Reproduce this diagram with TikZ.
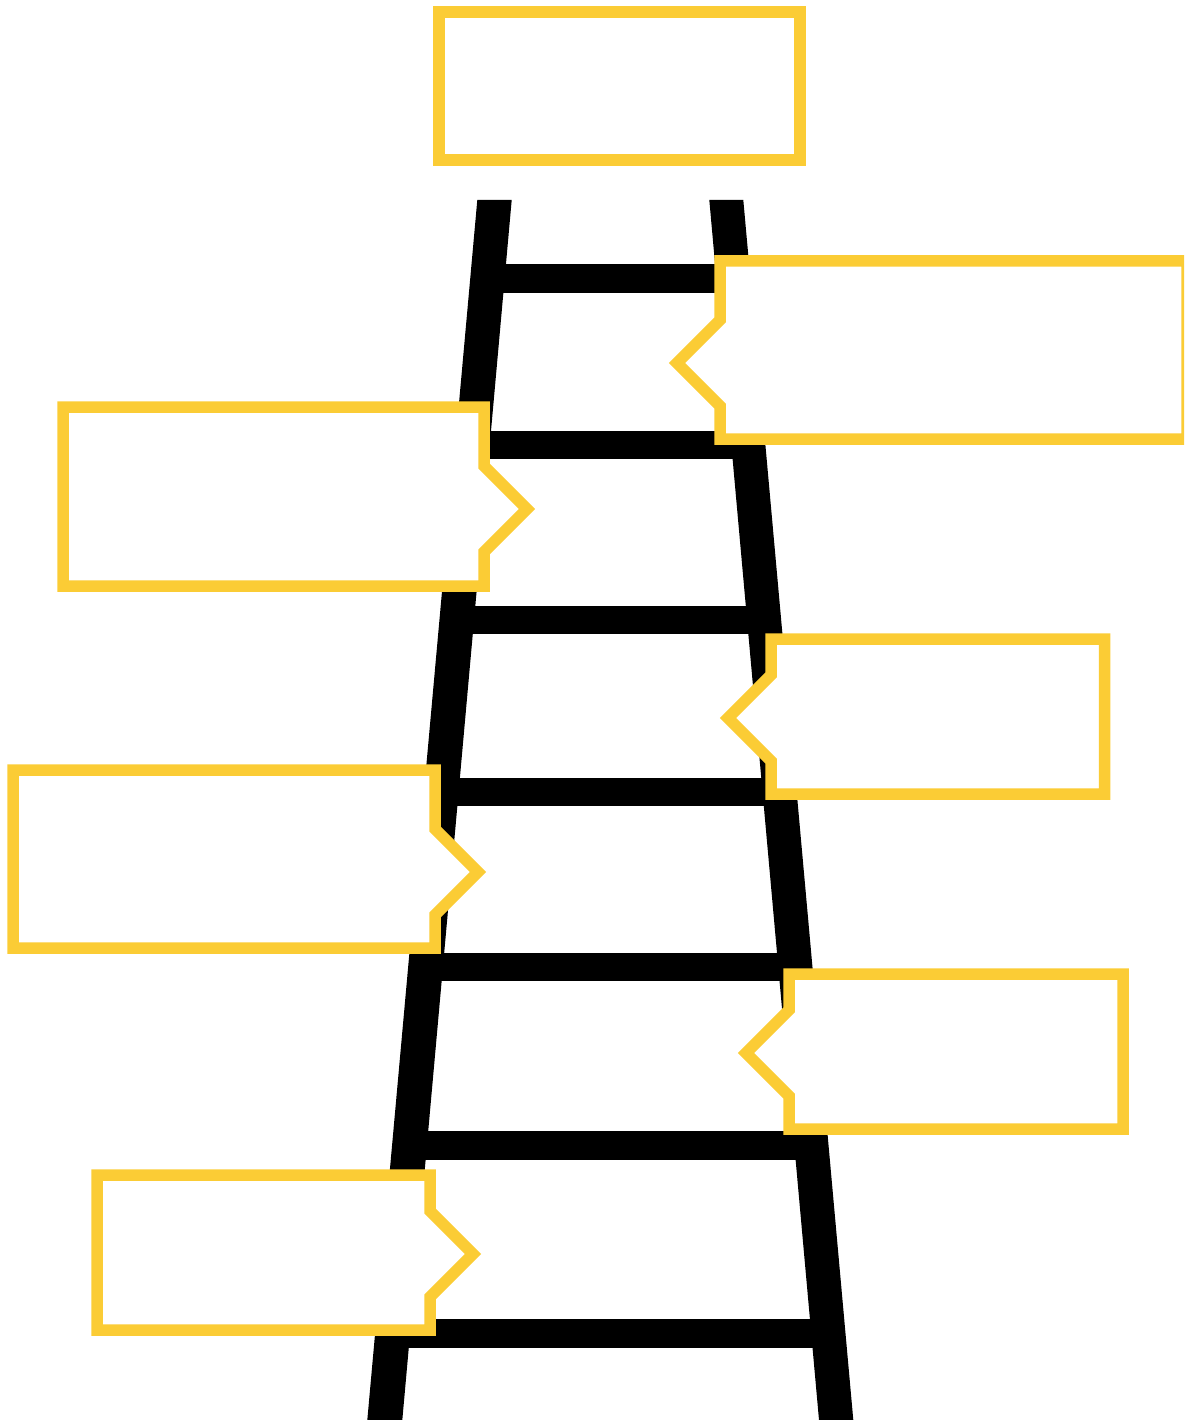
\documentclass[tikz,border=0pt]{standalone}
\usetikzlibrary{arrows.meta}
\definecolor{ladderYellow}{HTML}{FBCC35}
\definecolor{ladderBlack}{HTML}{000000}
\tikzset{
  ladder diagram/.style={
    x=1pt, y=-1pt, line join=miter,
    baseline=(current bounding box.center)
  },
  ladder rail/.style={fill=ladderBlack, draw=none},
  ladder rung/.style={draw=ladderBlack, line width=28.5pt},
  ladder callout/.style={draw=ladderYellow, fill=white, line width=11.5pt}
}
% #1 left, #2 top, #3 right, #4 bottom, #5 tip y
\newcommand{\LadderCalloutLeft}[5]{%
  \draw[ladder callout] (#1,#2) -- (#3,#2) -- (#3,#4) -- (#1,#4)
    -- (#1,#5+43) -- (#1-43,#5) -- (#1,#5-43) -- cycle;
}
\newcommand{\LadderCalloutRight}[5]{%
  \draw[ladder callout] (#3,#2) -- (#1,#2) -- (#1,#4) -- (#3,#4)
    -- (#3,#5+43) -- (#3+43,#5) -- (#3,#5-43) -- cycle;
}
\begin{document}
\begin{tikzpicture}[ladder diagram]
    \useasboundingbox (0,0) rectangle (1184,1420);
    \clip (0,0) rectangle (1184,1420);
    \foreach \y in {278.4,445,620,792,967,1145.5,1333.5}
      \draw[ladder rung] ({494.5-0.0899*(\y-200)},\y) -- ({726.3+0.0901*(\y-200)},\y);
    \fill[ladder rail] (477.3,200) -- (511.7,200) -- (402.3,1420) -- (367.3,1420) -- cycle;
    \fill[ladder rail] (709.3,200) -- (743.3,200) -- (853.3,1420) -- (819,1420) -- cycle;
    \draw[ladder callout] (439,12) rectangle (800,160);
    \LadderCalloutLeft{720}{261}{1187}{439}{363}
    \LadderCalloutRight{63}{407}{484}{586}{509}
    \LadderCalloutLeft{771}{639}{1104.5}{794}{718}
    \LadderCalloutRight{13}{770}{435}{948}{872}
    \LadderCalloutLeft{789}{974}{1123}{1129}{1053}
    \LadderCalloutRight{97}{1175}{430}{1330}{1254}
  \end{tikzpicture}
\end{document}
